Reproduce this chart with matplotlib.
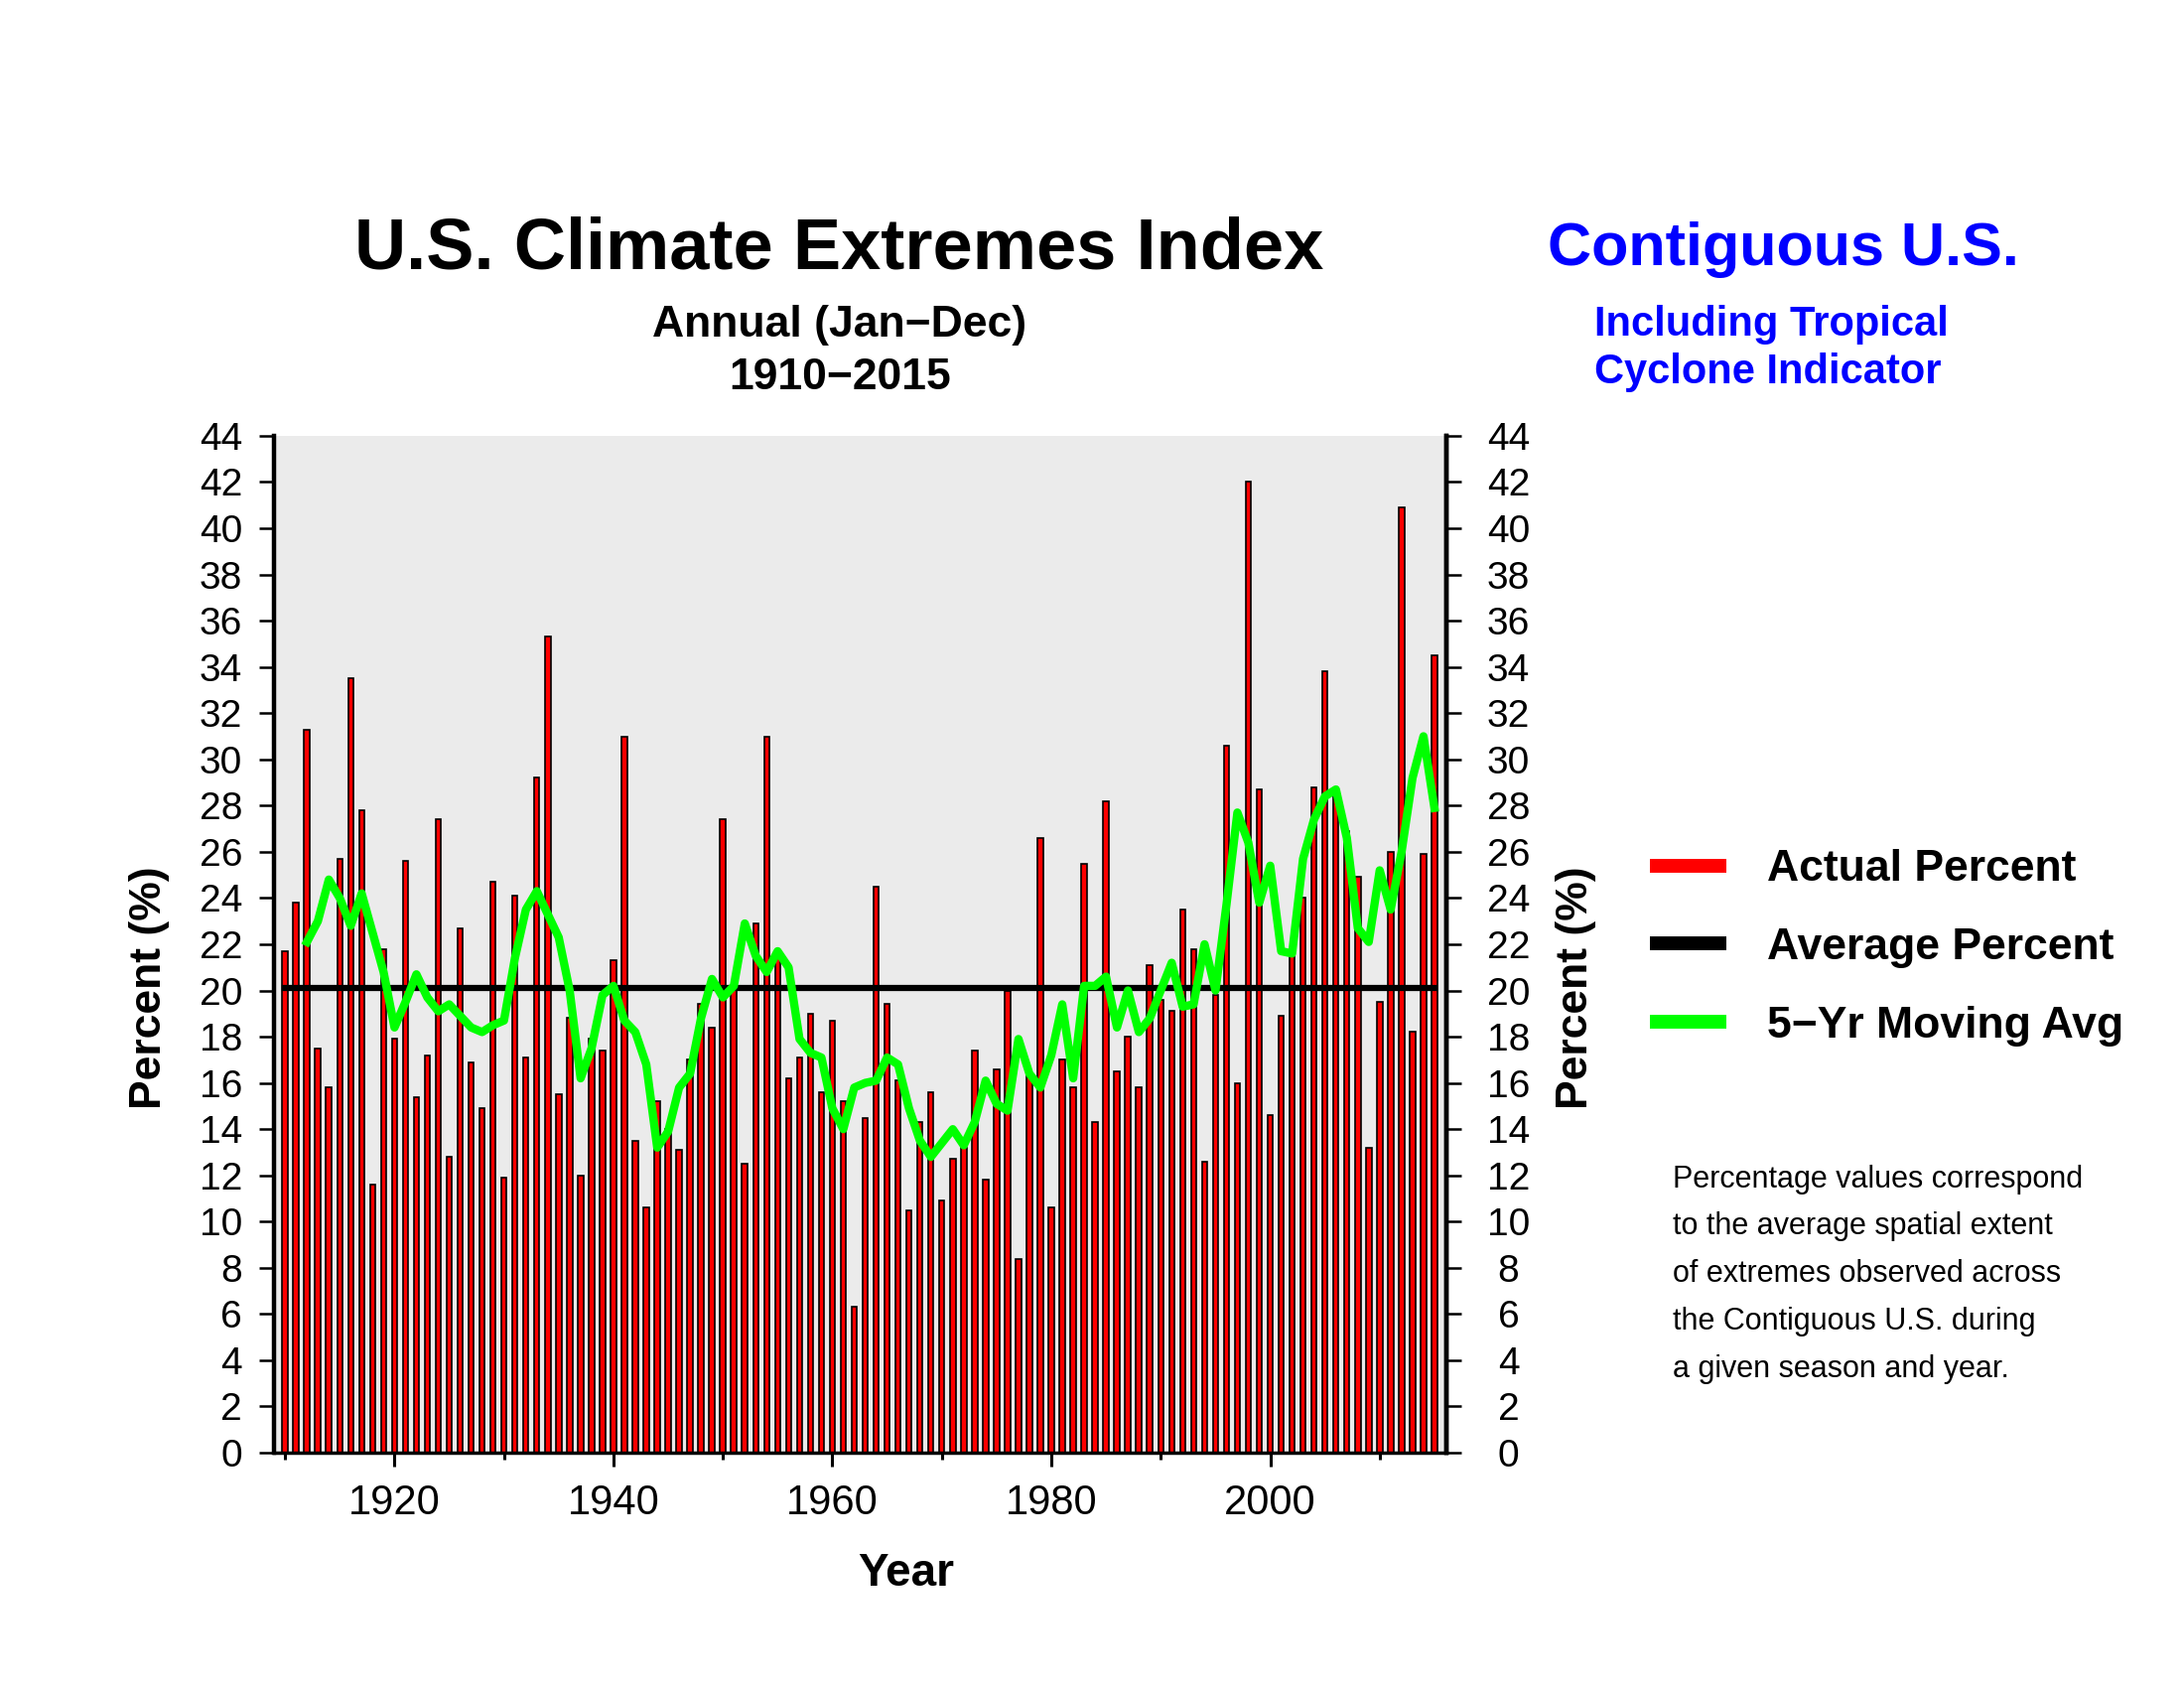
import matplotlib
matplotlib.use('Agg')
import matplotlib.pyplot as plt
from matplotlib.lines import Line2D

plt.rcParams['font.family'] = ['Liberation Sans', 'DejaVu Sans']

years = list(range(1910, 2016))

actual_pct = [
    21.7, 23.8, 31.3, 17.5, 15.8, 25.7, 33.5, 27.8, 11.6, 21.8,  # 1910s
    17.9, 25.6, 15.4, 17.2, 27.4, 12.8, 22.7, 16.9, 14.9, 24.7,  # 1920s
    11.9, 24.1, 17.1, 29.2, 35.3, 15.5, 18.8, 12.0, 17.9, 17.4,  # 1930s
    21.3, 31.0, 13.5, 10.6, 15.2, 14.0, 13.1, 17.0, 19.4, 18.4,  # 1940s
    27.4, 20.1, 12.5, 22.9, 31.0, 21.4, 16.2, 17.1, 19.0, 15.6,  # 1950s
    18.7, 15.2, 6.3, 14.5, 24.5, 19.4, 16.1, 10.5, 14.3, 15.6,   # 1960s
    10.9, 12.7, 13.2, 17.4, 11.8, 16.6, 20.0, 8.4, 16.4, 26.6,   # 1970s
    10.6, 17.0, 15.8, 25.5, 14.3, 28.2, 16.5, 18.0, 15.8, 21.1,  # 1980s
    19.6, 19.1, 23.5, 21.8, 12.6, 19.8, 30.6, 16.0, 42.0, 28.7,  # 1990s
    14.6, 18.9, 21.6, 24.0, 28.8, 33.8, 28.5, 26.9, 24.9, 13.2,  # 2000s
    19.5, 26.0, 40.9, 18.2, 25.9, 34.5,                          # 2010s
]

# 5-yr moving average as drawn (starts 1912)
ma_years = list(range(1912, 2016))
ma_pct = [
    22.1, 23.0, 24.8, 24.0, 22.8, 24.2, 22.5, 20.8,              # 1912-1919
    18.4, 19.5, 20.7, 19.7, 19.1, 19.4, 18.9, 18.4, 18.2, 18.5,  # 1920s
    18.7, 21.4, 23.5, 24.3, 23.3, 22.3, 20.0, 16.2, 17.5, 19.8,  # 1930s
    20.2, 18.7, 18.2, 16.8, 13.2, 13.9, 15.8, 16.4, 18.8, 20.5,  # 1940s
    19.7, 20.2, 22.9, 21.5, 20.8, 21.7, 21.0, 17.9, 17.3, 17.1,  # 1950s
    14.9, 14.0, 15.8, 16.0, 16.1, 17.1, 16.8, 14.9, 13.5, 12.8,  # 1960s
    13.4, 14.0, 13.3, 14.3, 16.1, 15.1, 14.8, 17.9, 16.4, 15.8,  # 1970s
    17.2, 19.4, 16.2, 20.2, 20.2, 20.6, 18.4, 20.0, 18.2, 18.8,  # 1980s
    20.0, 21.2, 19.3, 19.4, 22.0, 20.0, 23.7, 27.7, 26.4, 23.8,  # 1990s
    25.4, 21.7, 21.6, 25.7, 27.4, 28.4, 28.7, 26.6, 22.7, 22.1,  # 2000s
    25.2, 23.5, 26.0, 29.2, 31.0, 27.9,                          # 2010s
]

avg_pct = 20.1
y_ticks = list(range(0, 45, 2))

fig = plt.figure(figsize=(22, 17), dpi=100)
ax = fig.add_axes([0.1255, 0.1394, 0.5368, 0.6024])
ax.set_facecolor('#ebebeb')

ax.bar(years, actual_pct, width=0.5, color='#ff0000', edgecolor='black', linewidth=1.2, zorder=2)
ax.plot([years[0], years[-1]], [avg_pct, avg_pct], color='black', linewidth=4.5, zorder=3)
ax.plot(ma_years, ma_pct, color='#00ff00', linewidth=6, zorder=4)

ax.set_xlim(1909.0, 2016.1)
ax.set_ylim(0, 44)
ax.set_yticks(y_ticks)
ax.set_xticks(range(1920, 2001, 20))
ax.set_xticks(range(1910, 2016, 10), minor=True)

ax.spines['left'].set_linewidth(3.2)
ax.spines['right'].set_linewidth(3.2)
ax.spines['bottom'].set_linewidth(2.5)
ax.spines['top'].set_visible(False)

ax.tick_params(axis='y', which='major', direction='out', length=11, width=1.8,
               labelsize=28, left=True, right=False, pad=12)
ax.tick_params(axis='x', which='major', direction='out', length=10, width=2.2, labelsize=30, pad=12)
ax.tick_params(axis='x', which='minor', direction='out', length=5, width=2.2)

# right-hand axis with its own label spacing
sec = ax.secondary_yaxis('right')
sec.set_yticks(y_ticks)
sec.spines['right'].set_linewidth(3.2)
sec.tick_params(axis='y', direction='out', length=11, width=1.8, labelsize=28, pad=34)
for t in sec.yaxis.get_major_ticks():
    t.label2.set_horizontalalignment('center')

fig.text(0.0685, 0.415, 'Percent (%)', rotation=90, fontsize=32, fontweight='bold',
         ha='center', va='center')
fig.text(0.7215, 0.415, 'Percent (%)', rotation=90, fontsize=32, fontweight='bold',
         ha='center', va='center')
fig.text(0.415, 0.0676, 'Year', fontsize=33, fontweight='bold', ha='center', va='center')

fig.text(0.384, 0.852, 'U.S. Climate Extremes Index', fontsize=52, fontweight='bold',
         ha='center', va='center')
fig.text(0.3845, 0.8075, 'Annual (Jan\u2212Dec)', fontsize=32, fontweight='bold',
         ha='center', va='center')
fig.text(0.3845, 0.776, '1910\u22122015', fontsize=32, fontweight='bold',
         ha='center', va='center')

fig.text(0.8165, 0.852, 'Contiguous U.S.', fontsize=44, fontweight='bold', color='#0000ff',
         ha='center', va='center')
fig.text(0.730, 0.8075, 'Including Tropical', fontsize=30, fontweight='bold', color='#0000ff',
         ha='left', va='center')
fig.text(0.730, 0.7795, 'Cyclone Indicator', fontsize=30, fontweight='bold', color='#0000ff',
         ha='left', va='center')

handles = [Line2D([], [], color='#ff0000', linewidth=10, solid_capstyle='butt'),
           Line2D([], [], color='black', linewidth=10, solid_capstyle='butt'),
           Line2D([], [], color='#00ff00', linewidth=10, solid_capstyle='butt')]
labels = ['Actual Percent', 'Average Percent', '5\u2212Yr Moving Avg']
fig.legend(handles, labels, loc='center left', bbox_to_anchor=(0.7555, 0.4385),
           frameon=False, handlelength=1.73, handletextpad=0.92, labelspacing=0.85,
           borderpad=0, borderaxespad=0,
           prop={'family': 'Liberation Sans', 'weight': 'bold', 'size': 32})

note = ('Percentage values correspond\nto the average spatial extent\n'
        'of extremes observed across\nthe Contiguous U.S. during\na given season and year.')
fig.text(0.766, 0.2452, note, fontsize=22, ha='left', va='center', linespacing=1.77)

fig.savefig('out.png', dpi=100)
